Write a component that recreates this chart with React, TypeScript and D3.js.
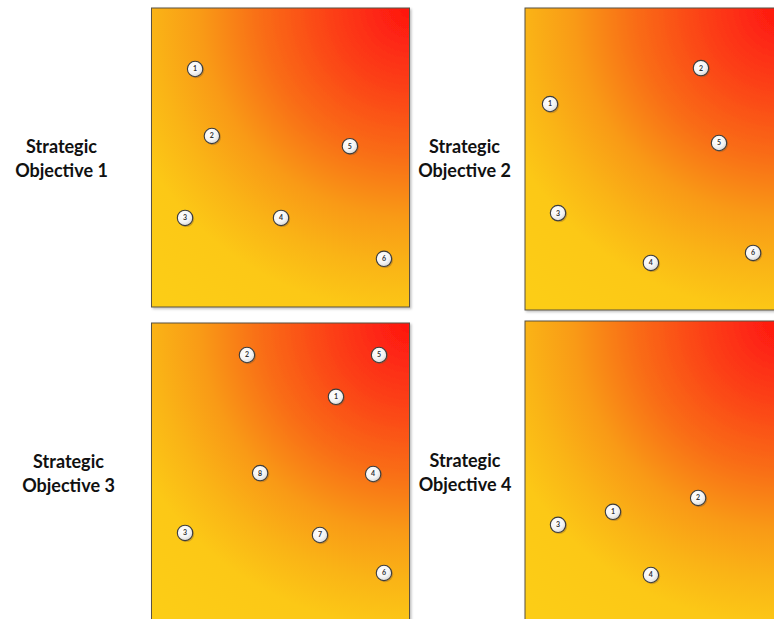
import React from "react";
import * as d3 from "d3";

// ---- Data ----
const panelTitles = ["Strategic Objective 1", "Strategic Objective 2", "Strategic Objective 3", "Strategic Objective 4"];

const p1Ids = ["1", "2", "3", "4", "5", "6"];
const p1X = [16.9, 23.4, 13.0, 50.2, 76.9, 90.1];
const p1Y = [79.6, 57.2, 29.8, 29.8, 53.8, 16.1];

const p2Ids = ["1", "2", "3", "4", "5", "6"];
const p2X = [9.7, 68.2, 12.8, 48.8, 75.2, 88.4];
const p2Y = [68.2, 80.1, 32.1, 15.6, 55.3, 18.9];

const p3Ids = ["2", "5", "1", "8", "4", "3", "7", "6"];
const p3X = [37.0, 88.2, 71.5, 42.1, 85.9, 13.0, 65.3, 90.1];
const p3Y = [89.3, 89.3, 75.3, 49.8, 49.5, 29.8, 29.1, 16.4];

const p4Ids = ["3", "1", "2", "4"];
const p4X = [12.8, 34.1, 67.1, 48.8];
const p4Y = [32.5, 36.8, 41.4, 15.9];

const axisDomain = [0, 100];

// ---- Layout ----
const W = 774;
const H = 619;
const layouts = [
  { x: 151.5, y: 8, w: 258, h: 299, lx: 61.5, ly: 153 },
  { x: 525, y: 8, w: 258, h: 302, lx: 464.5, ly: 153 },
  { x: 151.5, y: 323, w: 258, h: 299, lx: 68.5, ly: 468 },
  { x: 525, y: 321, w: 258, h: 302, lx: 465, ly: 467 },
];
const series = [
  { ids: p1Ids, xs: p1X, ys: p1Y },
  { ids: p2Ids, xs: p2X, ys: p2Y },
  { ids: p3Ids, xs: p3X, ys: p3Y },
  { ids: p4Ids, xs: p4X, ys: p4Y },
];

const gradStops = [
  { o: 0, c: "#ff1410" },
  { o: 0.2, c: "#fc3e15" },
  { o: 0.4, c: "#f96f16" },
  { o: 0.55, c: "#f99a15" },
  { o: 0.68, c: "#fab414" },
  { o: 0.8, c: "#fcc812" },
  { o: 1, c: "#fccd12" },
];

export default function App() {
  return (
    <svg
      width={W}
      height={H}
      style={{ position: "absolute", left: 0, top: 0, background: "#fff" }}
      fontFamily="Lato, 'Open Sans', sans-serif"
    >
      <defs>
        {layouts.map((L, i) => (
          <radialGradient
            key={i}
            id={`bg${i}`}
            gradientUnits="userSpaceOnUse"
            cx={L.x + L.w}
            cy={L.y}
            r={380}
          >
            {gradStops.map((s, j) => (
              <stop key={j} offset={s.o} stopColor={s.c} />
            ))}
          </radialGradient>
        ))}
        <radialGradient id="ball" cx="0.4" cy="0.35" r="0.7">
          <stop offset="0" stopColor="#ffffff" />
          <stop offset="0.6" stopColor="#f4f4f4" />
          <stop offset="1" stopColor="#d4d4d4" />
        </radialGradient>
        <filter id="panelShadow" x="-5%" y="-5%" width="110%" height="110%">
          <feDropShadow dx="1.5" dy="1.5" stdDeviation="1" floodColor="#000" floodOpacity="0.25" />
        </filter>
      </defs>
      {layouts.map((L, i) => {
        const x = d3.scaleLinear().domain(axisDomain).range([L.x, L.x + L.w]);
        const y = d3.scaleLinear().domain(axisDomain).range([L.y + L.h, L.y]);
        const s = series[i];
        const words = panelTitles[i].split(" ");
        const line1 = words[0];
        const line2 = words.slice(1).join(" ");
        return (
          <g key={i}>
            <rect
              x={L.x}
              y={L.y}
              width={L.w}
              height={L.h}
              fill={`url(#bg${i})`}
              stroke="#5a5244"
              strokeWidth={1}
              filter="url(#panelShadow)"
            />
            {s.ids.map((id, k) => {
              const cx = x(s.xs[k]);
              const cy = y(s.ys[k]);
              return (
                <g key={k}>
                  <circle cx={cx + 1.2} cy={cy + 1.2} r={8} fill="#7a5a30" opacity={0.35} />
                  <circle cx={cx} cy={cy} r={7.7} fill="url(#ball)" stroke="#3c3c3c" strokeWidth={1.1} />
                  <text
                    x={cx}
                    y={cy}
                    dy="0.35em"
                    textAnchor="middle"
                    fontSize={7}
                    fontWeight={700}
                    fill="#333"
                  >
                    {id}
                  </text>
                </g>
              );
            })}
            <text x={L.lx} y={L.ly} textAnchor="middle" fontSize={18} fontWeight={700} fill="#111">
              {line1}
            </text>
            <text x={L.lx} y={L.ly + 24} textAnchor="middle" fontSize={18} fontWeight={700} fill="#111">
              {line2}
            </text>
          </g>
        );
      })}
    </svg>
  );
}
